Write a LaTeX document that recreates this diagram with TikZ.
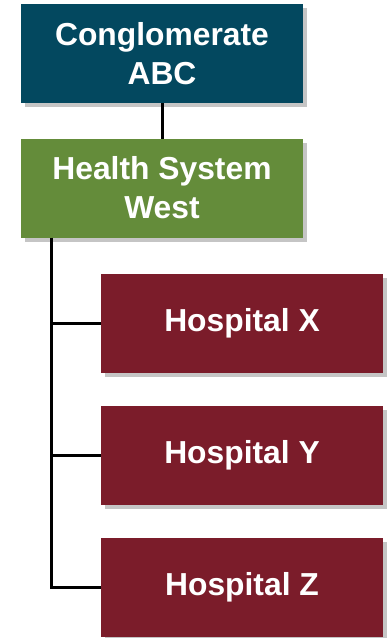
\documentclass[tikz,border=0pt]{standalone}
\usepackage{fontspec}
\setmainfont{Liberation Sans}
\usetikzlibrary{shadows}
\definecolor{conglo}{HTML}{03485F}
\definecolor{system}{HTML}{648C3A}
\definecolor{hosp}{HTML}{7B1C2A}
\tikzset{
	orgbox/.style={rectangle, minimum width=141pt, minimum height=49.5pt, inner sep=0pt, outer sep=0pt,
		text=white, align=center, font=\fontsize{15.9}{19.5}\selectfont\bfseries,
		drop shadow={shadow xshift=2pt, shadow yshift=-2pt, fill=black!45, opacity=.5}},
	link/.style={line width=1.5pt}
}
\begin{document}
\begin{tikzpicture}[x=1pt,y=1pt]
\useasboundingbox (0,0) rectangle (194.5,-319);
\node[orgbox, fill=conglo] (abc) at (81,-26.75) {Conglomerate\\ABC};
\node[orgbox, fill=system] (west) at (81,-94) {Health System\\West};
\node[orgbox, fill=hosp] (hx) at (121,-161.75) {Hospital X};
\node[orgbox, fill=hosp] (hy) at (121,-227.75) {Hospital Y};
\node[orgbox, fill=hosp] (hz) at (121,-293.75) {Hospital Z};
\coordinate (trunk) at ([xshift=15pt]west.south west);
\path[link]
(abc) edge (west)
(trunk |- hx.west) edge (hx.west)
(trunk |- hy.west) edge (hy.west)
;
\draw[link] (trunk) |- (hz.west);
\end{tikzpicture}
\end{document}
